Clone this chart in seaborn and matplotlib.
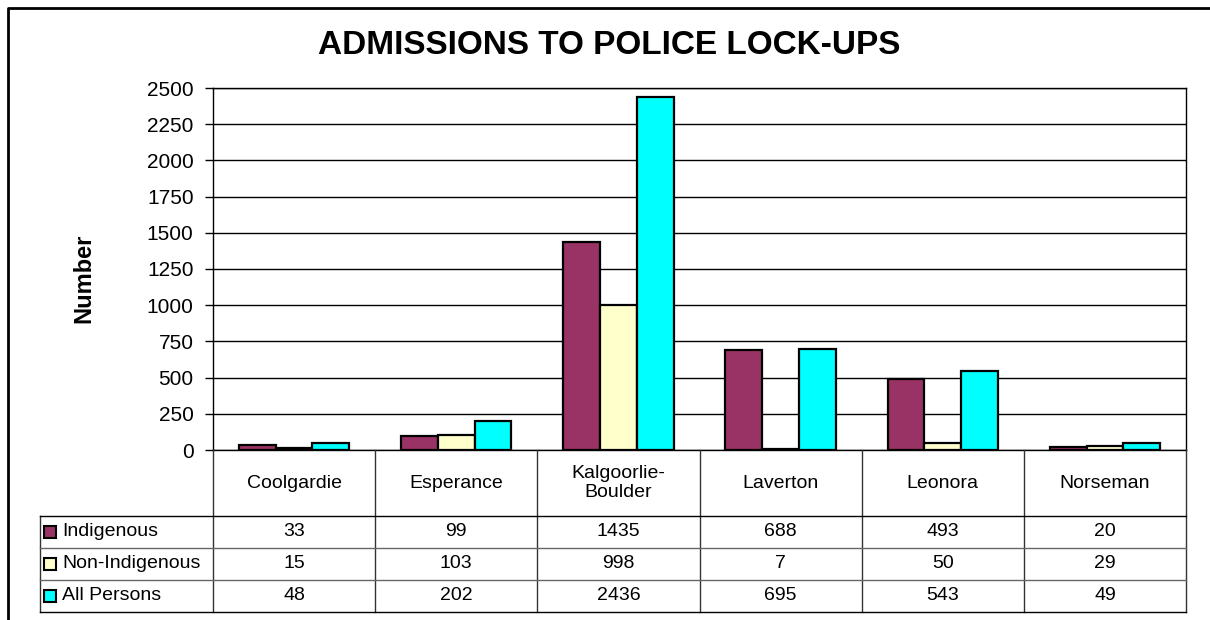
import numpy as np
import pandas as pd
import matplotlib
matplotlib.use("Agg")
import matplotlib.pyplot as plt
import matplotlib.transforms as mtrans
from matplotlib.lines import Line2D
from matplotlib.patches import Rectangle
import seaborn as sns

plt.rcParams['font.family'] = ['Liberation Sans', 'DejaVu Sans']

towns = ['Coolgardie', 'Esperance', 'Kalgoorlie-Boulder', 'Laverton', 'Leonora', 'Norseman']
town_labels = ['Coolgardie', 'Esperance', 'Kalgoorlie-\nBoulder', 'Laverton', 'Leonora', 'Norseman']
groups = ['Indigenous', 'Non-Indigenous', 'All Persons']
indigenous = [33, 99, 1435, 688, 493, 20]
non_indigenous = [15, 103, 998, 7, 50, 29]
all_persons = [48, 202, 2436, 695, 543, 49]
colors = ['#993366', '#FFFFCC', '#00FFFF']

series = [indigenous, non_indigenous, all_persons]
df = pd.DataFrame({
    'town': towns * 3,
    'group': [g for g in groups for _ in towns],
    'count': indigenous + non_indigenous + all_persons,
})

W, H = 1210, 620
fig = plt.figure(figsize=(W / 100, H / 100), dpi=100)

def fx(px):
    return px / W

def fy(py):
    return 1 - py / H

ax = fig.add_axes([fx(213), fy(450), (1186 - 213) / W, (450 - 88) / H])
sns.barplot(data=df, x='town', y='count', hue='group', hue_order=groups, order=towns,
            palette=colors, saturation=1, width=0.68, edgecolor='black', linewidth=1.6,
            legend=False, ax=ax)

ax.set_xlim(-0.5, len(towns) - 0.5)
ax.set_ylim(0, 2500)
ax.set_yticks(np.arange(0, 2501, 250))
ax.yaxis.grid(True, color='black', linewidth=1)
ax.set_axisbelow(True)
ax.set_xticks([])
ax.set_xlabel('')
ax.set_ylabel('')
ax.tick_params(axis='y', length=6, width=1, color='black', labelsize=15, pad=8)
for sp in ax.spines.values():
    sp.set_color('black')
    sp.set_linewidth(1)

# titles
fig.text(fx(609), fy(46), 'ADMISSIONS TO POLICE LOCK-UPS', ha='center', va='center',
         fontsize=24, fontweight='bold')
fig.text(fx(84), fy(278), 'Number', rotation=90, ha='center', va='center',
         fontsize=17, fontweight='bold')

# outer chart border (left and top)
fig.add_artist(Line2D([fx(8), fx(8), fx(1212)], [fy(625), fy(8), fy(8)],
                      transform=fig.transFigure, color='black', linewidth=2))

# data table below the axes
blend = mtrans.blended_transform_factory(ax.transData, fig.transFigure)
tbl_left, tbl_right = 40, 1186
row_edges = [516, 548, 580, 612]

for i in range(len(towns) + 1):
    fig.add_artist(Line2D([i - 0.5, i - 0.5], [fy(450), fy(612)], transform=blend,
                          color='#333333', linewidth=1))
fig.add_artist(Line2D([fx(tbl_left), fx(tbl_left)], [fy(516), fy(612)],
                      transform=fig.transFigure, color='#333333', linewidth=1))
for k, ry in enumerate(row_edges):
    c = 'black' if k in (0, 3) else '#666666'
    fig.add_artist(Line2D([fx(tbl_left), fx(tbl_right)], [fy(ry), fy(ry)],
                          transform=fig.transFigure, color=c, linewidth=1))

for i, lab in enumerate(town_labels):
    fig.text(i, fy(483), lab, transform=blend, ha='center', va='center',
             fontsize=14, linespacing=1.2)

for r, (g, vals, col) in enumerate(zip(groups, series, colors)):
    yc = (row_edges[r] + row_edges[r + 1]) / 2
    fig.add_artist(Rectangle((fx(44), fy(yc + 6)), 12 / W, 12 / H, transform=fig.transFigure,
                             facecolor=col, edgecolor='black', linewidth=1.5))
    fig.text(fx(62), fy(yc), g, ha='left', va='center', fontsize=14)
    for i, v in enumerate(vals):
        fig.text(i, fy(yc), str(v), transform=blend, ha='center', va='center', fontsize=14)

fig.savefig('out.png', dpi=100, facecolor='white')
